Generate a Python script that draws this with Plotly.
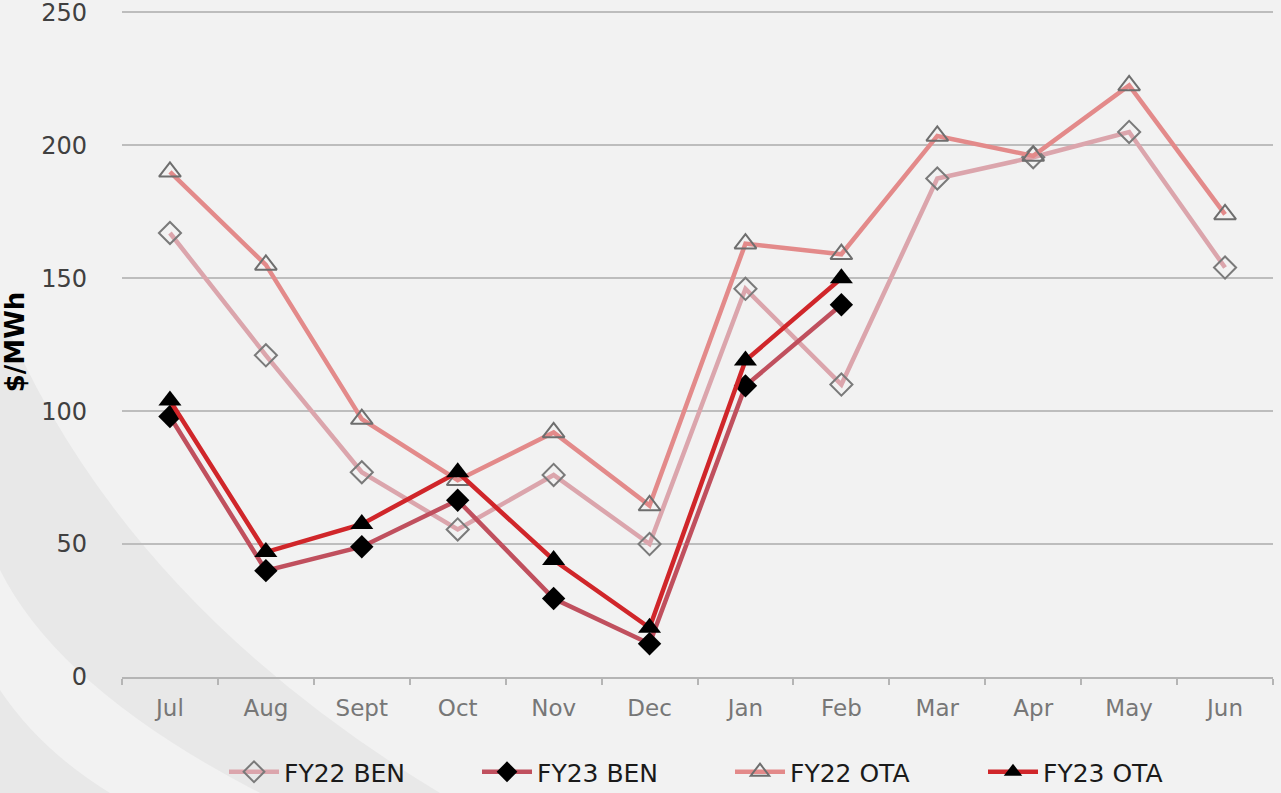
import plotly.graph_objects as go

months = ["Jul", "Aug", "Sept", "Oct", "Nov", "Dec", "Jan", "Feb", "Mar", "Apr", "May", "Jun"]
fy22_ben = [167, 121, 77, 55.5, 76, 50, 146, 110, 187.5, 195.5, 205, 154]
fy23_ben = [98, 40, 49, 66.5, 29.5, 12.5, 109.5, 140]
fy22_ota = [190, 155, 97, 74, 92, 64.5, 163, 159, 203.5, 196, 222.5, 174]
fy23_ota = [104, 47, 57.5, 77, 44, 18.5, 119, 150]
y_ticks = [0, 50, 100, 150, 200, 250]

W, H = 1281, 793
L, R, T, B = 122, 8, 7, 116
pw, ph = W - L - R, H - T - B
YMAX = 252


def px(x, y):
    return (x - L) / pw, (H - B - y) / ph


def band_path(pts):
    parts = []
    for cmd, *xy in pts:
        coords = []
        for j in range(0, len(xy), 2):
            a, b = px(xy[j], xy[j + 1])
            coords.append(f"{a:.4f},{b:.4f}")
        parts.append(cmd + " " + " ".join(coords))
    return " ".join(parts) + " Z"


shapes = [
    dict(type="path", xref="paper", yref="paper", layer="below", line=dict(width=0),
         fillcolor="#e8e8e8",
         path=band_path([("M", 0, 310), ("Q", 120, 600, 440, 793), ("L", 260, 793),
                         ("Q", 60, 690, 0, 570)])),
    dict(type="path", xref="paper", yref="paper", layer="below", line=dict(width=0),
         fillcolor="#e8e8e8",
         path=band_path([("M", 0, 690), ("Q", 40, 750, 110, 793), ("L", 0, 793)])),
]

fig = go.Figure()
fig.add_trace(go.Scatter(
    x=months, y=fy22_ben, name="FY22 BEN", mode="lines+markers",
    line=dict(color="#dba5ac", width=4.5),
    marker=dict(symbol="diamond-open", size=17, color="#7a7a7a", line=dict(width=2)),
))
fig.add_trace(go.Scatter(
    x=months[:len(fy23_ben)], y=fy23_ben, name="FY23 BEN", mode="lines+markers",
    line=dict(color="#c0505e", width=4.5),
    marker=dict(symbol="diamond", size=18, color="#000000"),
))
fig.add_trace(go.Scatter(
    x=months, y=fy22_ota, name="FY22 OTA", mode="lines+markers",
    line=dict(color="#e38a8a", width=4.5),
    marker=dict(symbol="triangle-up-open", size=19, color="#6e6e6e", line=dict(width=2)),
))
fig.add_trace(go.Scatter(
    x=months[:len(fy23_ota)], y=fy23_ota, name="FY23 OTA", mode="lines+markers",
    line=dict(color="#d0262a", width=4.5),
    marker=dict(symbol="triangle-up", size=20, color="#000000"),
))

fig.update_layout(
    width=W, height=H,
    margin=dict(l=L, r=R, t=T, b=B, autoexpand=False),
    paper_bgcolor="#f2f2f2", plot_bgcolor="rgba(0,0,0,0)",
    font=dict(family="DejaVu Sans", color="#595959"),
    shapes=shapes,
    showlegend=True,
    legend=dict(orientation="h", x=(224 - L) / pw, xanchor="left", y=(H - B - 772) / ph,
                yanchor="middle", font=dict(size=25, color="#1a1a1a"), bgcolor="rgba(0,0,0,0)",
                itemwidth=50, tracegroupgap=0, entrywidth=188),
    xaxis=dict(
        type="category", categoryorder="array", categoryarray=months,
        range=[-0.5, 11.5], showgrid=False, showline=True, linecolor="#b5b5b5", linewidth=2,
        ticks="outside", tickson="boundaries", ticklen=6, tickcolor="#b5b5b5", tickwidth=2,
        tickfont=dict(size=23, color="#777777"), ticklabelstandoff=9, zeroline=False,
    ),
    yaxis=dict(
        range=[0, YMAX], tickvals=y_ticks, showgrid=True, gridcolor="#bdbdbd", gridwidth=2,
        zeroline=False, showline=False, ticks="", ticklabeloverflow="allow",
        tickfont=dict(size=24, color="#404040"), ticklabelstandoff=34,
        title=dict(text="<b>$/MWh</b>", font=dict(size=26, color="#000000"), standoff=9),
    ),
)

fig.write_html("out.html", config={"displayModeBar": False},
               post_script="document.body.style.margin='0';document.body.style.background='#f2f2f2';")
